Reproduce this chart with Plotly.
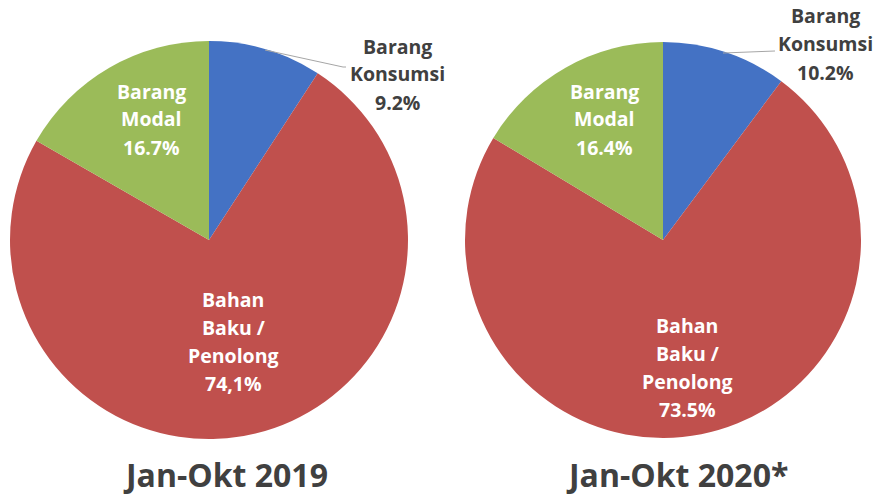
import plotly.graph_objects as go

W, H = 877, 498

categories = ["Barang Konsumsi", "Bahan Baku / Penolong", "Barang Modal"]
values_2019 = [9.2, 74.1, 16.7]
values_2020 = [10.2, 73.5, 16.4]
label_text_2019 = ["9.2%", "74,1%", "16.7%"]
label_text_2020 = ["10.2%", "73.5%", "16.4%"]
label_lines = [["Barang", "Konsumsi"], ["Bahan", "Baku /", "Penolong"], ["Barang", "Modal"]]
titles = ["Jan-Okt 2019", "Jan-Okt 2020*"]
colors = ["#4472C4", "#C0504D", "#9BBB59"]

FONT = "Open Sans"
GRAY = "#404040"
LSIZE = 19.5
LSTEP = 28


def px(x):
    return x / W


def py(y):
    return 1 - y / H


fig = go.Figure()
fig.add_trace(go.Pie(
    labels=categories, values=values_2019, sort=False, direction="clockwise",
    rotation=0, textinfo="none", hoverinfo="label+percent",
    marker=dict(colors=colors, line=dict(width=0)),
    domain=dict(x=[px(10), px(408)], y=[py(439), py(41)]), showlegend=False,
))
fig.add_trace(go.Pie(
    labels=categories, values=values_2020, sort=False, direction="clockwise",
    rotation=0, textinfo="none", hoverinfo="label+percent",
    marker=dict(colors=colors, line=dict(width=0)),
    domain=dict(x=[px(465), px(861)], y=[py(438), py(42)]), showlegend=False,
))

ann = []


def label(x, y0, lines, color):
    for i, t in enumerate(lines):
        ann.append(dict(x=px(x), y=py(y0 + i * LSTEP + 1), xref="paper", yref="paper",
                        text="<b>" + t + "</b>",
                        showarrow=False, xanchor="center", yanchor="middle",
                        font=dict(family=FONT, size=LSIZE, color=color)))


# 2019
label(397, 45, label_lines[0] + [label_text_2019[0]], GRAY)
label(151, 90, label_lines[2] + [label_text_2019[2]], "white")
label(233, 298, label_lines[1] + [label_text_2019[1]], "white")
# 2020
label(825, 15, label_lines[0] + [label_text_2020[0]], GRAY)
label(604, 90, label_lines[2] + [label_text_2020[2]], "white")
label(687, 324, label_lines[1] + [label_text_2020[1]], "white")

for x, t in [(226, titles[0]), (677, titles[1])]:
    ann.append(dict(x=px(x), y=py(474), xref="paper", yref="paper", text="<b>" + t + "</b>",
                    showarrow=False, xanchor="center", yanchor="middle",
                    font=dict(family=FONT, size=32, color=GRAY)))

shapes = [
    dict(type="path", xref="paper", yref="paper",
         path=f"M {px(265)} {py(50)} L {px(343)} {py(67)} L {px(346)} {py(67)}",
         line=dict(color="#A6A6A6", width=1)),
    dict(type="path", xref="paper", yref="paper",
         path=f"M {px(723)} {py(53)} L {px(775)} {py(51)}",
         line=dict(color="#A6A6A6", width=1)),
]

fig.update_layout(width=W, height=H, margin=dict(l=0, r=0, t=0, b=0),
                  paper_bgcolor="white", plot_bgcolor="white",
                  annotations=ann, shapes=shapes)

fig.write_html("out.html")
